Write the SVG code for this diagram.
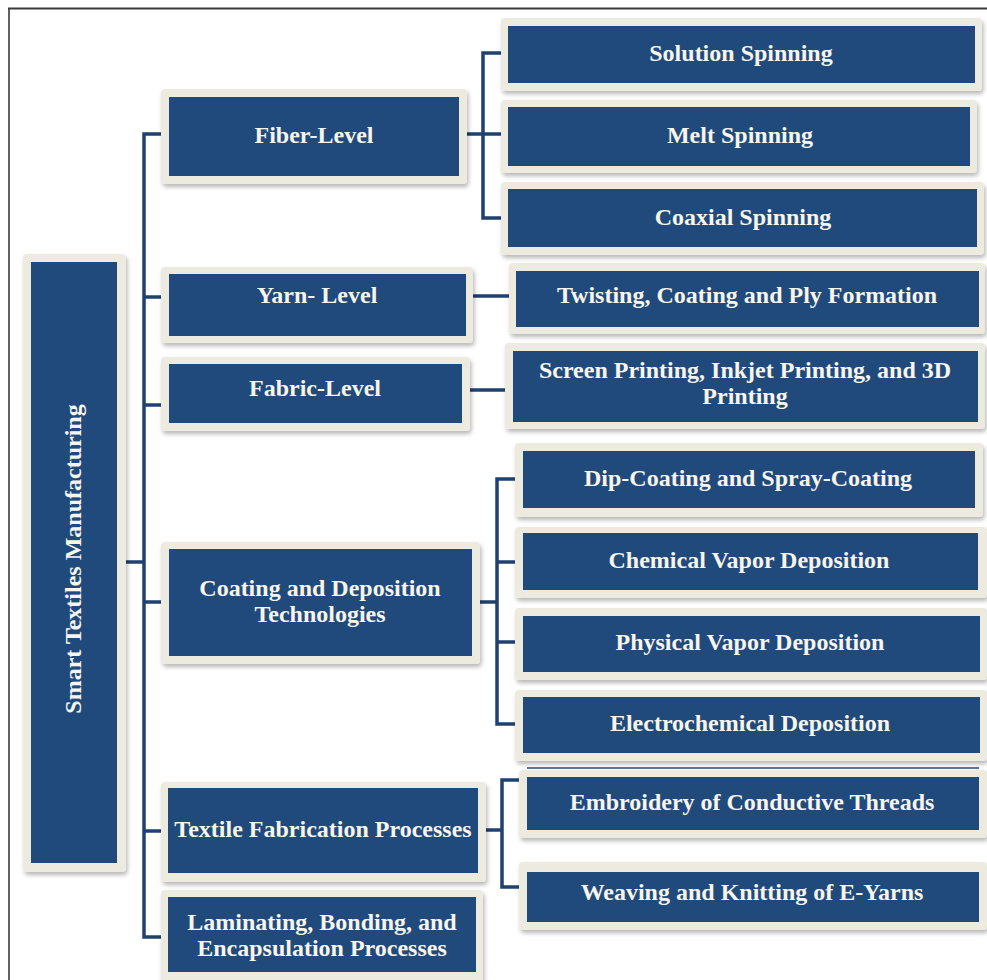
<svg xmlns="http://www.w3.org/2000/svg" width="987" height="980" viewBox="0 0 987 980">
<style>
.frame{fill:#EDEADF;filter:url(#sh);}
.fill{fill:#204A7C;}
.lbl{font-family:"Liberation Serif","Times New Roman",serif;font-weight:bold;font-size:24px;fill:#F7F5EC;text-anchor:middle;}
.con{fill:none;stroke:#1F4170;stroke-width:3.5;stroke-linejoin:miter;stroke-linecap:butt;}
.border{stroke:#3A3A3A;fill:none;}
</style>
<defs>
<filter id="sh" x="-10%" y="-10%" width="120%" height="130%">
<feDropShadow dx="1.5" dy="3" stdDeviation="2" flood-color="#000" flood-opacity="0.28"/>
</filter>
</defs>
<rect x="0" y="0" width="987" height="980" fill="#FFFFFF"/>
<line class="border" x1="8" y1="8.5" x2="987" y2="8.5" stroke-width="2"/>
<line class="border" x1="9" y1="8" x2="9" y2="980" stroke-width="1.6"/>

<g id="connectors">
<path class="con" d="M126 562 H144"/>
<path class="con" d="M161 134 H144 V937 H161"/>
<path class="con" d="M144 297 H161"/>
<path class="con" d="M144 405 H161"/>
<path class="con" d="M144 602 H161"/>
<path class="con" d="M144 831 H161"/>
<path class="con" d="M467 134 H501"/>
<path class="con" d="M501 53 H483 V218 H501"/>
<path class="con" d="M473 296 H509"/>
<path class="con" d="M470 390 H505"/>
<path class="con" d="M480 602 H497"/>
<path class="con" d="M515 479 H497 V724 H515"/>
<path class="con" d="M497 562 H515"/>
<path class="con" d="M497 642 H515"/>
<path class="con" d="M486 830 H502"/>
<path class="con" d="M519 780 H502 V887 H519"/>
</g>

<g id="n-root">
<rect class="frame" x="23" y="254" width="103" height="618" rx="4"/>
<rect class="fill" x="31" y="262" width="86" height="601"/>
<text class="lbl" transform="translate(73,559) rotate(-90)" x="0" y="8">Smart Textiles Manufacturing</text>
</g>

<g id="n-fiber">
<rect class="frame" x="161" y="89" width="306" height="95" rx="4"/>
<rect class="fill" x="169" y="97" width="290" height="79"/>
<text class="lbl" x="314" y="143">Fiber-Level</text>
</g>
<g id="n-yarn">
<rect class="frame" x="161" y="267" width="312" height="76" rx="4"/>
<rect class="fill" x="169" y="274" width="297" height="62"/>
<text class="lbl" x="317" y="303">Yarn- Level</text>
</g>
<g id="n-fabric">
<rect class="frame" x="161" y="357" width="309" height="74" rx="4"/>
<rect class="fill" x="169" y="364" width="293" height="59"/>
<text class="lbl" x="315" y="396">Fabric-Level</text>
</g>
<g id="n-coating">
<rect class="frame" x="161" y="542" width="319" height="122" rx="4"/>
<rect class="fill" x="169" y="549" width="303" height="107"/>
<text class="lbl" x="320" y="596">Coating and Deposition</text>
<text class="lbl" x="320" y="622">Technologies</text>
</g>
<g id="n-textile">
<rect class="frame" x="161" y="782" width="325" height="100" rx="4"/>
<rect class="fill" x="168" y="788" width="310" height="85"/>
<text class="lbl" x="323" y="837">Textile Fabrication Processes</text>
</g>
<g id="n-laminating">
<rect class="frame" x="161" y="890" width="322" height="95" rx="4"/>
<rect class="fill" x="168" y="897" width="308" height="75"/>
<text class="lbl" x="322" y="930">Laminating, Bonding, and</text>
<text class="lbl" x="322" y="956">Encapsulation Processes</text>
</g>

<g id="n-solution">
<rect class="frame" x="501" y="18" width="481" height="73" rx="4"/>
<rect class="fill" x="508" y="26" width="467" height="57"/>
<text class="lbl" x="741" y="61">Solution Spinning</text>
</g>
<g id="n-melt">
<rect class="frame" x="501" y="100" width="476" height="73" rx="4"/>
<rect class="fill" x="508" y="107" width="462" height="59"/>
<text class="lbl" x="740" y="143">Melt Spinning</text>
</g>
<g id="n-coaxial">
<rect class="frame" x="501" y="182" width="483" height="73" rx="4"/>
<rect class="fill" x="508" y="189" width="469" height="58"/>
<text class="lbl" x="743" y="225">Coaxial Spinning</text>
</g>
<g id="n-twisting">
<rect class="frame" x="509" y="263" width="476" height="71" rx="4"/>
<rect class="fill" x="516" y="271" width="463" height="56"/>
<text class="lbl" x="747" y="303">Twisting, Coating and Ply Formation</text>
</g>
<g id="n-printing">
<rect class="frame" x="505" y="343" width="480" height="86" rx="4"/>
<rect class="fill" x="513" y="351" width="465" height="71"/>
<text class="lbl" x="745" y="378">Screen Printing, Inkjet Printing, and 3D</text>
<text class="lbl" x="745" y="404">Printing</text>
</g>
<g id="n-dip">
<rect class="frame" x="515" y="443" width="468" height="74" rx="4"/>
<rect class="fill" x="523" y="451" width="452" height="57"/>
<text class="lbl" x="748" y="486">Dip-Coating and Spray-Coating</text>
</g>
<g id="n-cvd">
<rect class="frame" x="515" y="527" width="472" height="71" rx="4"/>
<rect class="fill" x="523" y="533" width="455" height="57"/>
<text class="lbl" x="749" y="568">Chemical Vapor Deposition</text>
</g>
<g id="n-pvd">
<rect class="frame" x="515" y="608" width="472" height="72" rx="4"/>
<rect class="fill" x="523" y="616" width="457" height="56"/>
<text class="lbl" x="750" y="650">Physical Vapor Deposition</text>
</g>
<g id="n-ecd">
<rect class="frame" x="515" y="690" width="472" height="71" rx="4"/>
<rect class="fill" x="523" y="697" width="457" height="56"/>
<text class="lbl" x="750" y="731">Electrochemical Deposition</text>
</g>
<g id="n-embroidery">
<rect class="frame" x="519" y="770" width="468" height="68" rx="4"/>
<rect class="fill" x="527" y="777" width="452" height="53"/>
<line x1="527" y1="768" x2="979" y2="768" stroke="#204A7C" stroke-width="1.5"/>
<text class="lbl" x="752" y="810">Embroidery of Conductive Threads</text>
</g>
<g id="n-weaving">
<rect class="frame" x="519" y="862" width="468" height="68" rx="4"/>
<rect class="fill" x="527" y="872" width="452" height="50"/>
<text class="lbl" x="752" y="900">Weaving and Knitting of E-Yarns</text>
</g>
</svg>
